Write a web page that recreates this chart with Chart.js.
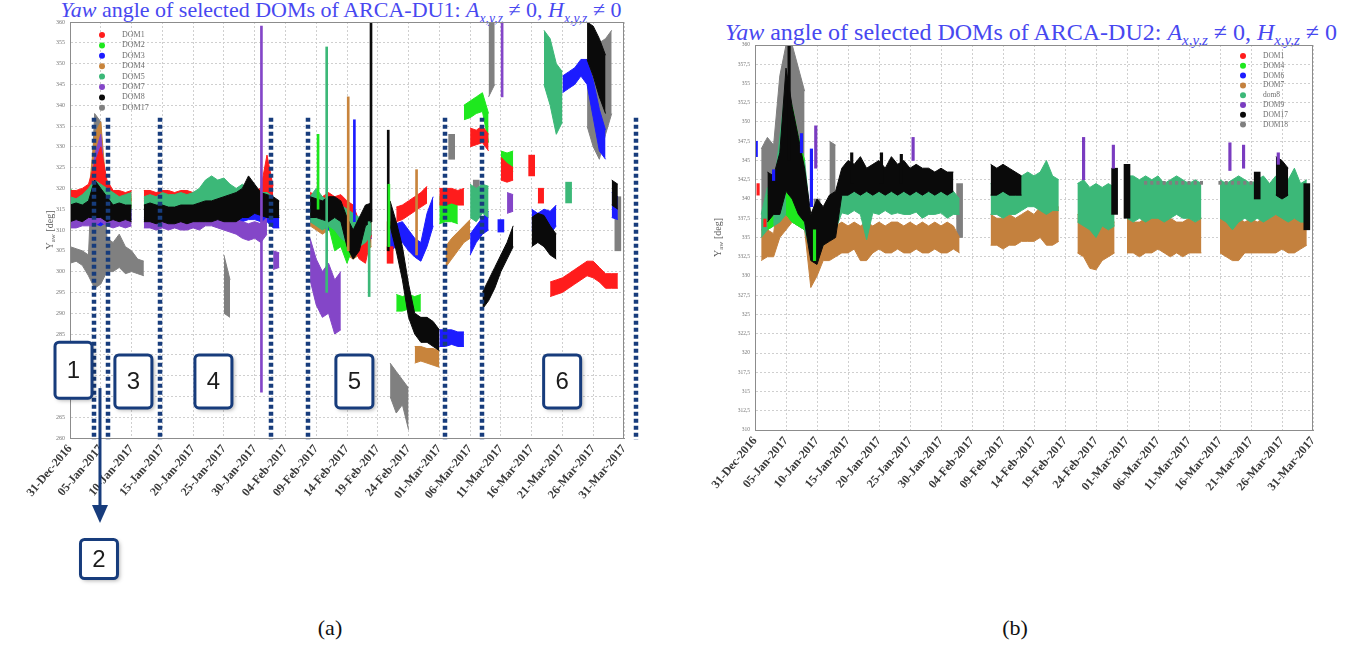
<!DOCTYPE html>
<html>
<head>
<meta charset="utf-8">
<script src="https://cdn.jsdelivr.net/npm/chart.js@4.4.0/dist/chart.umd.min.js"></script>
<style>
  body { margin: 0; background: #fff; width: 1360px; height: 648px; position: relative; overflow: hidden; font-family: "Liberation Serif", serif; }
  .panel { position: absolute; top: 0; }
  .title { position: absolute; color: #4848f0; white-space: nowrap; transform: translate(-50%, -50%); }
  .title sub { font-size: 0.62em; }
  .caption { position: absolute; top: 628px; font-size: 22px; transform: translate(-50%, -50%); color: #111; }
</style>
</head>
<body>
<div class="title" style="left:341px; top:12px; font-size:22px;"><i>Yaw</i> angle of selected DOMs of ARCA-DU1: <i>A</i><sub><i>x,y,z</i></sub> &ne; 0, <i>H</i><sub><i>x,y,z</i></sub> &ne; 0</div>
<div class="title" style="left:1031px; top:34px; font-size:24px;"><i>Yaw</i> angle of selected DOMs of ARCA-DU2: <i>A</i><sub><i>x,y,z</i></sub> &ne; 0, <i>H</i><sub><i>x,y,z</i></sub> &ne; 0</div>
<canvas id="du1" class="panel" style="left:0" width="680" height="600"></canvas>
<canvas id="du2" class="panel" style="left:680px" width="680" height="600"></canvas>
<div class="caption" style="left:330px">(a)</div>
<div class="caption" style="left:1015px">(b)</div>
<script>
// days since 31-Dec-2016 and the dates printed under them
const tickDays = [0, 5, 10, 15, 20, 25, 30, 35, 40, 45, 50, 55, 60, 65, 70, 75, 80, 85, 90];
const tickLabels = ['31-Dec-2016', '05-Jan-2017', '10-Jan-2017', '15-Jan-2017', '20-Jan-2017', '25-Jan-2017',
  '30-Jan-2017', '04-Feb-2017', '09-Feb-2017', '14-Feb-2017', '19-Feb-2017', '24-Feb-2017', '01-Mar-2017',
  '06-Mar-2017', '11-Mar-2017', '16-Mar-2017', '21-Mar-2017', '26-Mar-2017', '31-Mar-2017'];
const du1YTicks = [260, 265, 270, 275, 280, 285, 290, 295, 300, 305, 310, 315, 320, 325, 330, 335, 340, 345, 350, 355, 360];
const du2YTicks = [310, 312.5, 315, 317.5, 320, 322.5, 325, 327.5, 330, 332.5, 335, 337.5, 340, 342.5, 345, 347.5, 350, 352.5, 355, 357.5, 360];

// yaw spread per day: [day, lowest, highest] in degrees
// ARCA-DU1
const du1Dom1 = [[0,317,319.5],[1,317.5,319.5],[2,317,320],[3,317.5,321],[4,318,326],[5,316,330],[6,316,322],[7,317,319.5],[8,317.5,319.5],[9,317,319],[10,317,319.5],
  [12,317,319.5],[13,317.5,319.5],[14,317,319],[15,317,319.5],[16,317.5,319.5],[17,317,319],[18,317,319.5],[19,317.5,319.5],[20,317,319],[21,317,319.5],[22,317.5,320],[23,317,319.5],[24,317,319],[25,317,319.5],[26,317.5,319.5],[27,317,319],[28,317,319.5],[29,317,319.5],[30,317,319.5],[31,317,320],[32,316,328],[33,317,320.5],
  [39,314,319],[40,313,318.5],[41,313.5,318],[42,314,319],[43,313,318],[44,312,318.5],[45,309,317],[46,306,316],[47,303,312],[48,302,310],[49,309,318],
  [52,302,306],[53,312,315.5],[54,312.5,316],[55,313.5,317],[56,314.5,318],[57,315.5,319],[58,316.5,320.5],
  [60,316,320],[61,316,320],[62,316.5,320],[63,316,319.5],[64,316,320],[65,330,334.5],[66,330.5,334],[67,331,335],[68,329,333],
  [70,322,327.5],[71,321.5,326],[72,322,325],[75,323,328],[76,316.5,320],[77,316.5,320],
  [78,294,297.5],[79,294.5,298],[80,295,298.5],[81,296,299.5],[82,297,300.5],[83,298,301.5],[84,299,302.5],[85,298.5,302.5],[86,297.5,301],[87,296,299.5],[88,296,299.5],[89,296,299.5]];
const du1Dom2 = [[0,316,320],[1,316,318.5],[2,316.5,318],[3,315,319],[4,316,324],[5,315,325],[6,315,318],[7,316,318],[8,316,318.5],[9,316,318],[10,315.5,318],
  [39,313,317],[40,312,317],[41,312,316],[42,311,316],[43,305,315],[44,306,314],[45,302,313],[46,306,312],[47,308,313],[48,309,314],[49,310,315],
  [53,290.5,294.5],[54,290.5,294],[55,291,294.5],[56,290.5,294],[57,290.5,294.5],
  [60,311.5,318],[61,312,317.5],[62,312,318],[63,311.5,317],[64,336.5,340],[65,337,341],[66,338,342],[67,338.5,343],[68,331,338],
  [70,322.5,329],[71,323,328.5],[72,324,329]];
const du1Dom2Spikes = [[40.3,315,333],[51.8,306,321]];
const du1Dom3 = [[0,313,315.5],[1,312.5,315],[2,313,315.5],[3,312,314.5],[4,311.5,314],[5,311,314],[6,312,315],[7,312.5,315],[8,312.5,315],[9,312,315],[10,312.5,315],
  [12,312.5,315],[13,312.5,315],[14,312,315],[15,312.5,315],[16,312.5,315],[17,312,314.5],[18,312.5,315],[19,312,315],[20,312,315],[21,312.5,315],[22,312.5,315],[23,312,315],[24,312,314.5],[25,311.5,314],[26,311,313.5],[27,311.5,314],[28,312,315],[29,312.5,315],[30,312.5,315.5],[31,312,315],[32,312,315],[33,310.5,314],[34,310.5,313.5],
  [39,312,316],[40,311.5,315.5],[41,311,315],[42,310,314.5],[43,311,315],[44,309,314],[45,308,313],[46,307,312],[47,306,311],[48,307,312],[49,308,313],
  [52,305,311],[53,306,311.5],[54,307,312],[55,305,310],[56,303.5,308],[57,302.5,307],[58,306,314],[59,311,318],
  [60,282,286],[61,282,286],[62,282.5,286],[63,282,285.5],[64,282,285.5],[65,304,309],[66,307,311],[67,309,313],[68,310,314.5],[70,309.5,312.5],
  [75,310,315],[76,310.5,314],[77,311,315],[78,309,314.5],[79,311,316],
  [80,343,347],[81,344,348],[82,345,349],[83,347,351],[84,345,351],[85,337,346],[86,329,339],[87,327,334],[88,313,319],[89,312.5,318]];
const du1Dom3Spikes = [[46.2,312,336.5]];
const du1Dom4 = [[0,315,317.5],[1,315,317],[2,315.5,317.5],[3,315,318],[4,316,333],[5,315,336],[6,315,318],[7,315,317.5],[8,315.5,317.5],[9,315,317],[10,315,317.5],
  [12,315,317.5],[13,315,317],[14,315,317],[15,315.5,317.5],[16,315.5,317.5],[17,315,317],[18,315,317.5],[19,315,317.5],[20,315,317],[21,315.5,317.5],[22,315.5,318],[23,315,317.5],
  [24,315,317.5],[25,315.5,318],[26,315,317],[27,315,317.5],[28,315,317.5],[29,315.5,317.5],[30,315,317.5],[31,315,317],[32,315,317],[33,315,317.5],
  [39,311,316],[40,310,315],[41,309,315],[42,310,316],[43,309,314],[44,306,313],[45,304,311],[46,303,309],[47,304,310],[48,305,311],[49,306,312],
  [52,305,312],[56,278,282],[57,278.5,282],[58,278,281.5],[59,277.5,281.5],[60,277,281],
  [61,301,306],[62,303,308],[63,305,309.5],[64,307,311],[65,308,312.5]];
const du1Dom4Spikes = [[45.2,305,342],[56.3,304,324.5]];
const du1Dom5 = [[0,315,318],[1,315,317.5],[2,315.5,318.5],[3,315,320],[4,314,322],[5,314,321],[6,315,320],[7,315,319],[8,315.5,318],[9,315,318.5],[10,315,319],
  [12,315,318],[13,315,318.5],[14,314.5,318],[15,315,319],[16,314.5,318.5],[17,315,318.5],[18,315,319],[19,315.5,318.5],[20,315,319],[21,315,320],[22,316,322],[23,316,323],[24,317,322],[25,316,322.5],[26,315,321],[27,315.5,320],[28,315,321],[29,315,320],[30,315,319.5],[31,314.5,319],[32,314,319],[33,314,318],
  [39,312,318],[40,311,320],[41,310,318],[42,311,317],[43,310,316],[44,308,316],[45,307,315],[46,306,314],[47,306,313],[48,307,314],[49,309,315],
  [65,313,321],[66,312,320],[67,314,321],[68,313,320.5],[77,345,358],[78,340,356],[79,333,350],[80,336,348],[81,316.5,321.5]];
const du1Dom5Spikes = [[41.7,295,354],[48.6,294,312]];
const du1Dom7 = [[0,310.5,313.5],[1,310.5,313],[2,311,314],[3,311,315],[4,311,328],[5,312,333],[6,311,316],[7,310.5,313.5],[8,311,313.5],[9,310.5,313],[10,311,314],
  [12,310.5,313],[13,310.5,313.5],[14,310,313],[15,310.5,313],[16,310,313.5],[17,310.5,313],[18,310,313],[19,310,313.5],[20,310.5,313],[21,310,314],[22,311,314],[23,311,314.5],[24,310.5,314],[25,310,313.5],[26,309.5,313],[27,309,312.5],[28,308,312],[29,307.5,311.5],[30,308,312],[31,307,311.5],[32,309,313],[33,300.5,305],[34,301,304.5],
  [39,298,308],[40,292,303],[41,289,300],[42,290,302],[43,285,298],[44,286,300],[71,314,319],[72,314.5,318.5]];
const du1Dom7Spikes = [[31.1,271,359],[70.2,342,360]];
const du1Dom8 = [[0,312,316],[1,312.5,316.5],[2,312,316],[3,313,317],[4,313,322],[5,313,320],[6,312,318],[7,312.5,316],[8,312,316.5],[9,312.5,316],[10,312,316],
  [12,312,316],[13,312,316.5],[14,311.5,316],[15,312,316],[16,311.5,315.5],[17,311.5,315.5],[18,312,316],[19,311.5,316],[20,312,316],[21,312,316.5],[22,312,317],[23,312,317],[24,312.5,317.5],[25,312,318],[26,312,318.5],[27,312,319],[28,313,320],[29,313,323],[30,314,321],[31,313.5,319],[32,313,318.5],[33,313,318],[34,313,317],
  [39,313,318],[40,313,317.5],[41,312.5,317],[42,312,318],[43,313,318],[44,312,317],[45,306,313],[46,303,310],[47,305,313],[48,311,316],[49,312,316.5],
  [52,311,317],[53,305,312],[54,298,306],[55,289,297],[56,285,290],[57,283,289],[58,283,289],[59,282,288],[60,281,286],
  [67,291,295],[68,293,298],[69,296,301],[70,300,304],[71,303,307],[72,306,311],[75,306,313],[76,307,314],[77,306,313.5],[78,304,311],[79,303,309],
  [84,351,360],[85,347,359],[86,342,356],[87,338,352],[88,316,322],[89,315,321]];
const du1Dom8Spikes = [[48.9,312,360],[51.7,305,334]];
const du1Dom17 = [[0,302,306],[1,302.5,305.5],[2,301.5,305],[3,299,304],[4,296,338],[5,297,336],[6,300,308],[7,300,307],[8,301,309],[9,299.5,306],[10,300,305],[11,299.5,303],[12,299,302.5],
  [25,290,304],[26,289,298],[52,270,278],[53,266,276],[54,268,274],[55,262,272],[62,327,333],[66,317,322],[68,342,360],[69,345,360],
  [84,335,360],[85,330,358],[86,327,355],[87,333,356],[88,338,358],[89,305,318]];

// ARCA-DU2
const du2Dom1Spikes = [[0.5,340.5,342],[1.6,336.4,337.4]];
const du2Dom4 = [[2,336,340.5],[3,336.5,339.5],[5,338,354],[6,337,352],[7,336.5,348],[8,336,345]];
const du2Dom4Spikes = [[9.6,332,336]];
const du2Dom6Spikes = [[0.2,345.5,347.5],[3,342.4,343.8],[7.5,346,348.5],[9.1,339,346.5]];
const du2Dom7 = [[1,332,336],[2,332.5,336],[3,332.5,335.5],[4,335,342],[5,336,350],[6,337,349],[7,336.5,346],[8,336,340],[9,328.5,336],[10,330,334],[11,332,335],[12,332,337],[13,332.5,336.5],
  [14,333,337],[15,333,336.5],[16,333.5,337],[17,332,336.5],[18,332,337],[19,333,336.5],[20,333.5,337],[21,333,336.5],[22,333,337],[23,333.5,337],[24,333,336.5],[25,333,337],[26,333.5,336.5],[27,333,337],[28,333,336.5],[29,333.5,337],[30,333,336.5],[31,333,337],[32,333.5,336.5],[33,333,335],
  [38,334,338],[39,334,337.5],[40,333.5,337.5],[41,334,338],[42,334,337.5],[43,334.5,338],[44,334.5,338.5],[45,334.5,338],[46,335,339],[47,334,341.5],[48,334,338.5],[49,334.5,339],
  [52,333,338],[53,332.5,337.5],[54,331,337],[55,330.8,336.5],[56,332,337],[57,332.5,337.5],[58,333,337],
  [60,333,337.5],[61,333,337],[62,332.5,337],[63,333,337.5],[64,333,338],[65,333.5,337.5],[66,333,338],[67,332.5,337.5],[68,333,337],[69,332.5,337],[70,333,337.5],[71,333,337],[72,333,337.5],
  [75,333,337.5],[76,332.5,337.5],[77,332,337],[78,332,337.5],[79,333,337],[80,333,337.5],[81,333,337],[82,333,337.5],[83,333,337.5],[84,333,338],[85,333.5,338],[86,333,337.5],[87,333,337.5],[88,333.5,338],[89,334,338]];
const du2Dom8 = [[1,335,338],[2,336,341.5],[3,336.5,341],[4,337,348],[5,338,355],[6,337,352],[7,336.5,348],[8,336,345],[9,333,337],[10,333,338],[11,334,337],[12,335,339],[13,336,340],
  [14,338.2,341.5],[15,338,342],[16,338.5,341],[17,338,341.5],[18,334.7,342],[19,338.2,341],[20,338,342],[21,338.5,341.5],[22,338,342],[23,338.2,341.5],[24,338,342.5],[25,338,341.5],[26,338.3,341],[27,337.5,341.5],[28,338,342],[29,338,341],[30,338.2,341.5],[31,337.5,341],[32,338,341],[33,338,340],
  [38,338,342],[39,338,342.5],[40,337.5,342],[41,338,342.5],[42,338,343],[43,338.5,343],[44,339,343.5],[45,339,343],[46,338.5,343.5],[47,338,345],[48,338.5,343],[49,338.5,342.5],
  [52,337,342],[53,336.5,342.5],[54,336,341.5],[55,335,342],[56,336.5,341.5],[57,336,342],[58,336.5,341.5],
  [60,337.5,343],[61,337,343],[62,337.5,342.5],[63,337,343],[64,337.5,342.5],[65,337.5,343],[66,337,342],[67,337.5,342.5],[68,338,343],[69,337.5,342.5],[70,337.5,342],[71,337,342.5],[72,337.5,342],
  [75,337.5,342.5],[76,337,342],[77,336,342.5],[78,337,343],[79,337.5,342.5],[80,337,342],[81,337.5,342.5],[82,337,343],[83,337.5,342],[84,338,343],[85,337.5,343],[86,337,342.5],[87,337.5,344],[88,337,342],[89,337,342.5]];
const du2Dom9Spikes = [[9.8,344,349.5],[25.5,345,348],[53,342.5,348],[57.8,344,347],[76.6,343.7,347.3],[78.8,344,347],[84.4,344.5,346]];
const du2Dom17 = [[2,337,343.5],[3,338,343],[4,338,346],[5,341,357],[6,340,352],[7,338,348],[8,337,344],[9,332,338],[10,331.5,340],[11,334,339],[12,334.5,340.5],[13,335,341],
  [14,340.5,344],[15,340.5,345],[16,341,344.5],[17,340.5,345.5],[18,341,344],[19,340.5,344.5],[20,341,345],[21,340.5,344],[22,341,345.5],[23,340.5,344.5],[24,341,345],[25,340.5,344],[26,341,344.5],[27,340.5,344],[28,341,344],[29,340.5,343.5],[30,341,344],[31,340.5,343.5],[32,341,343.5],
  [38,340.5,344.5],[39,340.5,344],[40,341,344.5],[41,340.5,344],[42,340.5,343.5],[43,340.5,343],[58,338,344],[60,337.5,344.5],[81,340,343.5],[84,340.5,345.5],[85,340,345],[86,340.5,344],[89,336,342]];
const du2Dom17Spikes = [[15.6,342,346],[20.4,342,346],[23.6,342,345.8],[5.5,345,360]];
const du2Dom18 = [[1,336,346.5],[2,336,348],[3,337,347],[4,338,356],[5,342,360],[6,341,360],[7,338,357],[8,336,354],[10,333,340],[12,340,347.5],[13,340,347],[33,335,342]];
const du2Dom18Spikes = [[63,341.9,342.3],[64,341.9,342.3],[65,341.9,342.3],[66,341.9,342.3],[67,341.9,342.3],[68,341.9,342.3],[69,341.9,342.3],[70,341.9,342.3],[71,341.9,342.3],[72,341.9,342.3],
  [75,341.9,342.3],[76,341.9,342.3],[77,341.9,342.3],[78,341.9,342.3],[79,341.9,342.3],[80,341.9,342.3]];

const navy = '#173c7c';

function floating(rows) {
  return rows.map(([d, lo, hi]) => ({ x: d, y: [lo, hi] }));
}

// split a DOM's rows into continuous stretches: a new stretch starts after
// a missing day or when the yaw jumps away from the previous day
function stretches(rows) {
  const out = [];
  let cur = [];
  rows.forEach(r => {
    const p = cur[cur.length - 1];
    if (p && (r[0] - p[0] > 1.5 || r[1] > p[2] + 2 || r[2] < p[1] - 2)) { out.push(cur); cur = []; }
    cur.push(r);
  });
  if (cur.length) out.push(cur);
  return out;
}

// each stretch becomes a filled area between its daily highs and lows;
// lone days and short excursions are drawn as floating bars.
// a lower layer number is painted on top
function buildSets(series, spikeWidth) {
  const sets = [];
  series.forEach(s => {
    stretches(s.band).forEach(run => {
      if (run.length === 1) {
        sets.push({ type: 'bar', data: floating(run), backgroundColor: s.color, barThickness: 6, grouped: false, order: s.layer });
        return;
      }
      sets.push({ type: 'line', data: run.map(r => ({ x: r[0], y: r[2] })), borderColor: s.color, borderWidth: 1, pointRadius: 0, fill: false, order: s.layer });
      sets.push({ type: 'line', data: run.map(r => ({ x: r[0], y: r[1] })), borderColor: s.color, backgroundColor: s.color, borderWidth: 1, pointRadius: 0, fill: '-1', order: s.layer });
    });
    if (s.spikes.length) sets.push({ type: 'bar', data: floating(s.spikes), backgroundColor: s.color, barThickness: spikeWidth, grouped: false, order: 0 });
  });
  return sets;
}

function drawBox(ctx, cx, cy, w, h, text) {
  ctx.save();
  ctx.shadowColor = 'rgba(0,0,0,0.35)';
  ctx.shadowBlur = 4; ctx.shadowOffsetX = 2; ctx.shadowOffsetY = 2;
  ctx.fillStyle = '#fff';
  ctx.beginPath();
  ctx.roundRect(cx - w / 2, cy - h / 2, w, h, 4);
  ctx.fill();
  ctx.shadowColor = 'transparent';
  ctx.strokeStyle = navy; ctx.lineWidth = 3;
  ctx.stroke();
  ctx.fillStyle = '#1c1c1c';
  ctx.font = '24px "Liberation Sans"';
  ctx.textAlign = 'center'; ctx.textBaseline = 'middle';
  ctx.fillText(text, cx, cy + 1);
  ctx.restore();
}

// period markers on the DU1 plot
function du1Notes(chart) {
  const { ctx, chartArea: a, scales: { x, y } } = chart;
  ctx.save();
  ctx.strokeStyle = navy; ctx.lineWidth = 4.5; ctx.setLineDash([4, 3]);
  [3.9, 6.2, 14.6, 32.6, 38.6, 61, 67, 91.9].forEach(d => {
    const px = Math.round(x.getPixelForValue(d));
    ctx.beginPath(); ctx.moveTo(px, y.getPixelForValue(337)); ctx.lineTo(px, a.bottom + 2); ctx.stroke();
  });
  ctx.setLineDash([]);
  const ax = x.getPixelForValue(4.87);
  ctx.lineWidth = 3;
  ctx.beginPath(); ctx.moveTo(ax, y.getPixelForValue(272)); ctx.lineTo(ax, a.bottom + 72); ctx.stroke();
  ctx.fillStyle = navy;
  ctx.beginPath(); ctx.moveTo(ax - 8, a.bottom + 67); ctx.lineTo(ax + 8, a.bottom + 67); ctx.lineTo(ax, a.bottom + 85); ctx.closePath(); ctx.fill();
  ctx.restore();
  drawBox(ctx, x.getPixelForValue(0.57), y.getPixelForValue(276.3), 37, 56, '1');
  [['3', 10.3], ['4', 23.3], ['5', 46.2], ['6', 79.95]].forEach(([t, d]) =>
    drawBox(ctx, x.getPixelForValue(d), y.getPixelForValue(273.6), 37, 53, t));
  drawBox(ctx, ax - 1, a.bottom + 121, 37, 39, '2');
}

function decor(p) {
  return {
    id: 'decor',
    afterDraw(chart) {
      const { ctx, chartArea: a } = chart;
      ctx.save();
      ctx.strokeStyle = '#8c8c8c'; ctx.lineWidth = 1;
      ctx.strokeRect(a.left + 0.5, a.top + 0.5, a.width - 1, a.height);

      // Y_aw [deg], written upwards with a lowered "aw"
      ctx.save();
      ctx.translate(a.left - p.yTitleGap, (a.top + a.bottom) / 2);
      ctx.rotate(-Math.PI / 2);
      ctx.fillStyle = '#5a5a5a';
      const big = '10px "Liberation Serif"', small = '7px "Liberation Serif"';
      ctx.font = big; const w1 = ctx.measureText('Y').width, w3 = ctx.measureText(' [deg]').width;
      ctx.font = small; const w2 = ctx.measureText('aw').width;
      let tx = -(w1 + w2 + w3) / 2;
      ctx.textBaseline = 'alphabetic';
      ctx.font = big; ctx.fillText('Y', tx, 3); tx += w1;
      ctx.font = small; ctx.fillText('aw', tx, 5); tx += w2;
      ctx.font = big; ctx.fillText(' [deg]', tx, 3);
      ctx.restore();

      // legend
      ctx.font = p.legendFont;
      ctx.textBaseline = 'middle';
      p.series.forEach((s, i) => {
        const ly = p.legendY + i * p.legendStep;
        ctx.fillStyle = s.color;
        ctx.beginPath(); ctx.arc(p.legendX, ly, 3, 0, Math.PI * 2); ctx.fill();
        ctx.fillStyle = '#6e6e6e';
        ctx.fillText(s.name, p.legendX + 20, ly);
      });
      ctx.restore();
      if (p.notes) p.notes(chart);
    }
  };
}

function makeChart(id, p) {
  return new Chart(document.getElementById(id), {
    type: 'bar',
    data: { datasets: buildSets(p.series, p.spikeWidth) },
    options: {
      responsive: false,
      animation: false,
      layout: { padding: p.pad },
      plugins: { legend: { display: false }, tooltip: { enabled: false } },
      scales: {
        x: {
          type: 'linear', min: 0, max: 90, offset: false,
          grid: { offset: false, color: '#cfcfcf', drawTicks: false },
          border: { dash: [2, 2], color: '#8c8c8c' },
          afterBuildTicks: s => { s.ticks = tickDays.map(v => ({ value: v })); },
          afterFit: s => { s.height = p.xAxisHeight; s.paddingLeft = 0; s.paddingRight = 0; },
          ticks: {
            autoSkip: false, minRotation: p.rotation, maxRotation: p.rotation, padding: 4,
            color: '#3a3a3a', font: { family: 'Liberation Serif', size: p.xFont, weight: 'bold' },
            callback: v => tickLabels[tickDays.indexOf(v)]
          }
        },
        y: {
          type: 'linear', min: p.yTicks[0], max: p.yTicks[p.yTicks.length - 1],
          grid: { color: '#cfcfcf', drawTicks: false },
          border: { dash: [2, 2], color: '#8c8c8c' },
          afterBuildTicks: s => { s.ticks = p.yTicks.map(v => ({ value: v })); },
          afterFit: s => { s.width = p.yAxisWidth; s.paddingTop = 0; s.paddingBottom = 0; },
          ticks: {
            padding: 5, color: '#777', font: { family: 'Liberation Serif', size: p.yFont },
            callback: v => String(v).replace('.', ',')
          }
        }
      }
    },
    plugins: [decor(p)]
  });
}

makeChart('du1', {
  series: [
    { name: 'DOM1', color: '#ff1c1c', band: du1Dom1, spikes: [], layer: 3 },
    { name: 'DOM2', color: '#1ee81e', band: du1Dom2, spikes: du1Dom2Spikes, layer: 4 },
    { name: 'DOM3', color: '#1c1cff', band: du1Dom3, spikes: du1Dom3Spikes, layer: 6 },
    { name: 'DOM4', color: '#c8843c', band: du1Dom4, spikes: du1Dom4Spikes, layer: 7 },
    { name: 'DOM5', color: '#3cb878', band: du1Dom5, spikes: du1Dom5Spikes, layer: 2 },
    { name: 'DOM7', color: '#8446c8', band: du1Dom7, spikes: du1Dom7Spikes, layer: 5 },
    { name: 'DOM8', color: '#0a0a0a', band: du1Dom8, spikes: du1Dom8Spikes, layer: 1 },
    { name: 'DOM17', color: '#808080', band: du1Dom17, spikes: [], layer: 8 }
  ],
  spikeWidth: 2,
  yTicks: du1YTicks,
  pad: { left: 0, top: 22, right: 56, bottom: 0 },
  yAxisWidth: 70, xAxisHeight: 162,
  rotation: 50, xFont: 12, yFont: 6, yTitleGap: 20,
  legendX: 102, legendY: 35, legendStep: 10.4, legendFont: '8px "Liberation Serif"',
  notes: du1Notes
});

makeChart('du2', {
  series: [
    { name: 'DOM1', color: '#ff1c1c', band: [], spikes: du2Dom1Spikes, layer: 6 },
    { name: 'DOM4', color: '#1ee81e', band: du2Dom4, spikes: du2Dom4Spikes, layer: 2 },
    { name: 'DOM6', color: '#1c1cff', band: [], spikes: du2Dom6Spikes, layer: 7 },
    { name: 'DOM7', color: '#c4813e', band: du2Dom7, spikes: [], layer: 4 },
    { name: 'dom8', color: '#3cb878', band: du2Dom8, spikes: [], layer: 3 },
    { name: 'DOM9', color: '#7a3cc0', band: [], spikes: du2Dom9Spikes, layer: 8 },
    { name: 'DOM17', color: '#0a0a0a', band: du2Dom17, spikes: du2Dom17Spikes, layer: 1 },
    { name: 'DOM18', color: '#7f7f7f', band: du2Dom18, spikes: du2Dom18Spikes, layer: 5 }
  ],
  spikeWidth: 2.5,
  yTicks: du2YTicks,
  pad: { left: 0, top: 45, right: 47, bottom: 0 },
  yAxisWidth: 75, xAxisHeight: 170,
  rotation: 50, xFont: 12, yFont: 5.5, yTitleGap: 37,
  legendX: 563, legendY: 56, legendStep: 9.8, legendFont: '7.5px "Liberation Serif"'
});
</script>
</body>
</html>
